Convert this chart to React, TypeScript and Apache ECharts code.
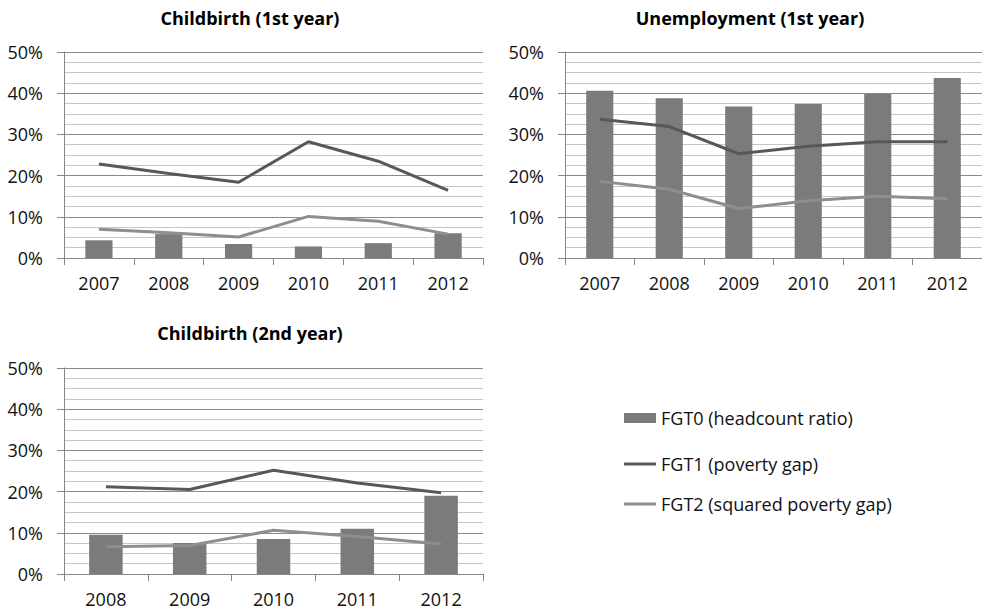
import React, { useEffect, useRef } from "react";
import * as echarts from "echarts";

const titles = ["Childbirth (1st year)", "Unemployment (1st year)", "Childbirth (2nd year)"];
const seriesNames = ["FGT0 (headcount ratio)", "FGT1 (poverty gap)", "FGT2 (squared poverty gap)"];

const yearsA = ["2007", "2008", "2009", "2010", "2011", "2012"];
const yearsB = ["2007", "2008", "2009", "2010", "2011", "2012"];
const yearsC = ["2008", "2009", "2010", "2011", "2012"];

// Childbirth (1st year)
const childFirstFGT0 = [0.043, 0.058, 0.034, 0.028, 0.036, 0.060];
const childFirstFGT1 = [0.228, 0.205, 0.184, 0.282, 0.235, 0.164];
const childFirstFGT2 = [0.070, 0.061, 0.051, 0.101, 0.089, 0.058];

// Unemployment (1st year)
const unempFGT0 = [0.406, 0.388, 0.368, 0.374, 0.398, 0.437];
const unempFGT1 = [0.337, 0.319, 0.253, 0.271, 0.282, 0.282];
const unempFGT2 = [0.186, 0.167, 0.120, 0.139, 0.150, 0.144];

// Childbirth (2nd year)
const childSecondFGT0 = [0.095, 0.075, 0.085, 0.110, 0.190];
const childSecondFGT1 = [0.212, 0.205, 0.252, 0.221, 0.197];
const childSecondFGT2 = [0.066, 0.069, 0.106, 0.091, 0.073];

const yTicks = { min: 0, max: 0.5, interval: 0.1 };

export default function App() {
  const ref = useRef<HTMLDivElement>(null);
  useEffect(() => {
    if (!ref.current) return;
    const chart = echarts.init(ref.current, null, { renderer: "svg" });
    const font = "'Open Sans', 'Liberation Sans', sans-serif";
    const grids = [
      { left: 64, top: 52, width: 419, height: 206 },
      { left: 565, top: 52, width: 417, height: 206 },
      { left: 64, top: 368, width: 419, height: 206 },
    ];
    const cats = [yearsA, yearsB, yearsC];
    const data = [
      [childFirstFGT0, childFirstFGT1, childFirstFGT2],
      [unempFGT0, unempFGT1, unempFGT2],
      [childSecondFGT0, childSecondFGT1, childSecondFGT2],
    ];
    const barWidths = ["39%", "39%", "40%"];
    const titleCenters = [
      { x: 250, y: 18 },
      { x: 750, y: 18 },
      { x: 250, y: 333 },
    ];
    const series: any[] = [];
    data.forEach((d, i) => {
      series.push({
        name: seriesNames[0],
        type: "bar",
        xAxisIndex: i,
        yAxisIndex: i,
        data: d[0],
        barWidth: barWidths[i],
        itemStyle: { color: "#7b7b7b" },
      });
      series.push({
        name: seriesNames[1],
        type: "line",
        xAxisIndex: i,
        yAxisIndex: i,
        data: d[1],
        symbol: "none",
        lineStyle: { color: "#585858", width: 3 },
        itemStyle: { color: "#585858" },
        z: 3,
      });
      series.push({
        name: seriesNames[2],
        type: "line",
        xAxisIndex: i,
        yAxisIndex: i,
        data: d[2],
        symbol: "none",
        lineStyle: { color: "#8e8e8e", width: 3 },
        itemStyle: { color: "#8e8e8e" },
        z: 3,
      });
    });
    const legendText = { fontFamily: font, fontSize: 18, color: "#111" };
    chart.setOption({
      animation: false,
      backgroundColor: "#ffffff",
      title: titles.map((t, i) => ({
        text: t,
        left: titleCenters[i].x,
        top: titleCenters[i].y,
        textAlign: "center",
        textVerticalAlign: "middle",
        textStyle: { fontFamily: font, fontWeight: "bold", fontSize: 18, color: "#000" },
        padding: 0,
      })),
      legend: [
        {
          orient: "vertical",
          left: 619,
          top: 404,
          itemWidth: 32,
          itemHeight: 10,
          textStyle: legendText,
          data: [{ name: seriesNames[0], icon: "rect" }],
        },
        {
          orient: "vertical",
          left: 619,
          top: 450,
          itemWidth: 32,
          itemHeight: 3,
          itemGap: 22,
          textStyle: legendText,
          data: [
            { name: seriesNames[1], icon: "rect" },
            { name: seriesNames[2], icon: "rect" },
          ],
        },
      ],
      grid: grids,
      xAxis: cats.map((c, i) => ({
        type: "category",
        gridIndex: i,
        data: c,
        boundaryGap: true,
        axisLine: { lineStyle: { color: "#868686", width: 1 } },
        axisTick: { show: true, alignWithLabel: false, length: 7, lineStyle: { color: "#868686" } },
        axisLabel: { fontFamily: font, fontSize: 18, color: "#111", margin: 16 },
        splitLine: { show: false },
      })),
      yAxis: cats.map((_, i) => ({
        type: "value",
        gridIndex: i,
        ...yTicks,
        axisLine: { show: true, lineStyle: { color: "#868686", width: 1 } },
        axisTick: { show: true, length: 7, lineStyle: { color: "#868686" } },
        axisLabel: {
          fontFamily: font,
          fontSize: 18,
          color: "#111",
          margin: 21,
          formatter: (v: number) => Math.round(v * 100) + "%",
        },
        splitLine: { show: true, lineStyle: { color: "#8a8a8a", width: 1 } },
        minorTick: { show: false, splitNumber: 4 },
        minorSplitLine: { show: true, lineStyle: { color: "#c6c6c6", width: 1 } },
      })),
      series,
    });
    return () => chart.dispose();
  }, []);
  return <div ref={ref} style={{ width: 982, height: 610, position: "absolute", left: 0, top: 0 }} />;
}
